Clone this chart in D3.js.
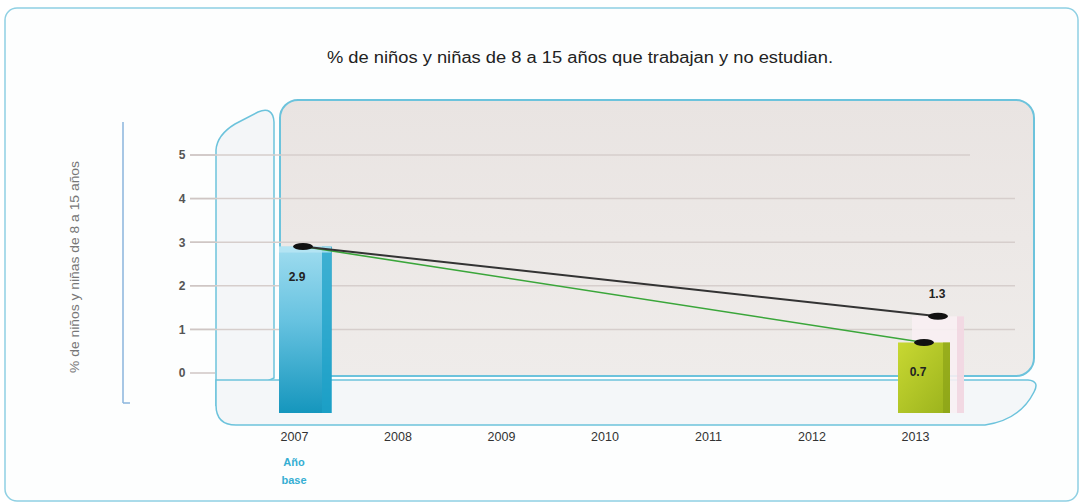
<!DOCTYPE html>
<html>
<head>
<meta charset="utf-8">
<script src="https://cdn.jsdelivr.net/npm/d3@7"></script>
<style>
  body { margin: 0; background: #fff; }
  svg { display: block; font-family: "Liberation Sans", Arial, sans-serif; }
</style>
</head>
<body>
<svg id="chart" width="1084" height="504"></svg>
<script>
// data
const years = [2007, 2008, 2009, 2010, 2011, 2012, 2013];
const yTicks = [0, 1, 2, 3, 4, 5];
const metaYears = [2007, 2013];
const metaValues = [2.9, 1.3];    // black line (goal)
const realYears = [2007, 2013];
const realValues = [2.9, 0.7];    // green line
const title = "% de niños y niñas de 8 a 15 años que trabajan y no estudian.";
const yTitle = "% de niños y niñas de 8 a 15 años";

const svg = d3.select("#chart");
const x = d3.scaleLinear().domain([2007, 2013]).range([294, 915]);
const y = d3.scaleLinear().domain([0, 5]).range([373, 155]);
const floorY = 413;
const barW = 52;

const defs = svg.append("defs");
const gBlue = defs.append("linearGradient").attr("id", "gBlue").attr("x1", 0).attr("y1", 0).attr("x2", 0).attr("y2", 1);
gBlue.append("stop").attr("offset", "0%").attr("stop-color", "#9fdcef");
gBlue.append("stop").attr("offset", "45%").attr("stop-color", "#66c2e0");
gBlue.append("stop").attr("offset", "100%").attr("stop-color", "#1596bd");
const gGreen = defs.append("linearGradient").attr("id", "gGreen").attr("x1", 0).attr("y1", 0).attr("x2", 1).attr("y2", 1);
gGreen.append("stop").attr("offset", "0%").attr("stop-color", "#c8d832");
gGreen.append("stop").attr("offset", "100%").attr("stop-color", "#9ab21c");
const gPanel = defs.append("linearGradient").attr("id", "gPanel").attr("x1", 0).attr("y1", 0).attr("x2", 0).attr("y2", 1);
gPanel.append("stop").attr("offset", "0%").attr("stop-color", "#e9e4e2");
gPanel.append("stop").attr("offset", "100%").attr("stop-color", "#efecea");

// outer card
svg.append("rect").attr("x", 5).attr("y", 8).attr("width", 1073).attr("height", 493).attr("rx", 12)
  .attr("fill", "#fdfefe").attr("stroke", "#8fd0e3").attr("stroke-width", 1.5);

// title
svg.append("text").attr("x", 580).attr("y", 63).attr("text-anchor", "middle")
  .attr("font-size", 16).attr("fill", "#222")
  .attr("textLength", 506).attr("lengthAdjust", "spacingAndGlyphs")
  .text(title);

// y title and side rule
svg.append("text").attr("transform", "translate(79,267) rotate(-90)")
  .attr("text-anchor", "middle").attr("font-size", 13).attr("fill", "#777")
  .attr("textLength", 212).attr("lengthAdjust", "spacingAndGlyphs")
  .text(yTitle);
svg.append("line").attr("x1", 123).attr("x2", 123).attr("y1", 122).attr("y2", 403)
  .attr("stroke", "#8ab4dc").attr("stroke-width", 1.5);
svg.append("line").attr("x1", 123).attr("x2", 130).attr("y1", 403).attr("y2", 403)
  .attr("stroke", "#8ab4dc").attr("stroke-width", 1.5);

// left side panel and floor
svg.append("path")
  .attr("d", "M216,405 L216,150 Q217,135 235,124 L258,112 Q273,106 274,122 L274,378 Z")
  .attr("fill", "#f4f6f8").attr("stroke", "#6cc3dc").attr("stroke-width", 1.5);
svg.append("path")
  .attr("d", "M216,380 L1028,380 Q1040,381 1034,392 Q1020,420 985,425 L236,425 Q216,425 216,405 Z")
  .attr("fill", "#f4f7f9").attr("stroke", "#6cc3dc").attr("stroke-width", 1.5);

// main plot panel
svg.append("rect").attr("x", 280).attr("y", 100).attr("width", 754).attr("height", 276).attr("rx", 18)
  .attr("fill", "url(#gPanel)").attr("stroke", "#6cc3dc").attr("stroke-width", 2);

// grid + ticks
const grid = svg.append("g");
grid.selectAll("line.grid").data(yTicks.filter(d => d > 0)).enter().append("line")
  .attr("class", "grid")
  .attr("x1", 190).attr("x2", d => d === 5 ? 970 : 1015)
  .attr("y1", d => y(d)).attr("y2", d => y(d))
  .attr("stroke", "#d6cecc").attr("stroke-width", 1.5);
grid.selectAll("line.tick").data(yTicks).enter().append("line")
  .attr("class", "tick")
  .attr("x1", 190).attr("x2", 215)
  .attr("y1", d => y(d)).attr("y2", d => y(d))
  .attr("stroke", "#cfc6c4").attr("stroke-width", 1.5);

const yAxis = d3.axisLeft(y).tickValues(yTicks).tickSize(0).tickPadding(0).tickFormat(d3.format("d"));
svg.append("g").attr("transform", "translate(186,0)").call(yAxis)
  .call(g => g.select(".domain").remove())
  .call(g => g.selectAll("text").attr("font-size", 12).attr("font-weight", "bold").attr("fill", "#555")
    .attr("font-family", "Liberation Sans, Arial, sans-serif").attr("text-anchor", "middle").attr("dx", -4));

const xAxis = d3.axisBottom(x).tickValues(years).tickSize(0).tickPadding(0).tickFormat(d3.format("d"));
svg.append("g").attr("transform", "translate(0,437)").call(xAxis)
  .call(g => g.select(".domain").remove())
  .call(g => g.selectAll("text").attr("font-size", 12.5).attr("fill", "#333")
    .attr("font-family", "Liberation Sans, Arial, sans-serif").attr("dy", "0.3em"));

// "Año base"
svg.append("text").attr("x", x(2007)).attr("y", 466).attr("text-anchor", "middle")
  .attr("font-size", 11).attr("font-weight", "bold").attr("fill", "#35aed3").text("Año");
svg.append("text").attr("x", x(2007)).attr("y", 484).attr("text-anchor", "middle")
  .attr("font-size", 11).attr("font-weight", "bold").attr("fill", "#35aed3").text("base");

// bars
// faded goal bar for 2013
const metaLast = metaValues[metaValues.length - 1];
svg.append("rect").attr("x", x(2013) + 23 - barW / 2).attr("y", y(metaLast))
  .attr("width", barW).attr("height", floorY - y(metaLast))
  .attr("fill", "#f8f0f3").attr("opacity", 0.9);
svg.append("rect").attr("x", x(2013) + 23 + barW / 2 - 7).attr("y", y(metaLast))
  .attr("width", 7).attr("height", floorY - y(metaLast))
  .attr("fill", "#f0d3de").attr("opacity", 0.8);

// 2007 base bar
const base = realValues[0];
svg.append("rect").attr("x", x(2007) + 12 - barW / 2 - 1).attr("y", y(base))
  .attr("width", barW).attr("height", floorY - y(base))
  .attr("fill", "url(#gBlue)");
svg.append("rect").attr("x", x(2007) + 12 + barW / 2 - 10).attr("y", y(base))
  .attr("width", 10).attr("height", floorY - y(base))
  .attr("fill", "#1ea2c8").attr("opacity", 0.75);
svg.append("rect").attr("x", x(2007) + 12 - barW / 2 - 1).attr("y", y(base))
  .attr("width", barW).attr("height", 6).attr("fill", "#b9e6f4").attr("opacity", 0.8);

// 2013 green bar
const last = realValues[realValues.length - 1];
svg.append("rect").attr("x", x(2013) + 9 - barW / 2).attr("y", y(last))
  .attr("width", barW).attr("height", floorY - y(last))
  .attr("fill", "url(#gGreen)");
svg.append("rect").attr("x", x(2013) + 9 + barW / 2 - 7).attr("y", y(last))
  .attr("width", 7).attr("height", floorY - y(last))
  .attr("fill", "#879e15").attr("opacity", 0.6);

// lines
const metaPts = metaYears.map((yr, i) => [x(yr) + (i === 0 ? 9 : 23), y(metaValues[i])]);
const realPts = realYears.map((yr, i) => [x(yr) + 9, y(realValues[i])]);
const line = d3.line();
svg.append("path").attr("d", line(realPts)).attr("fill", "none")
  .attr("stroke", "#3aa63a").attr("stroke-width", 1.6);
svg.append("path").attr("d", line(metaPts)).attr("fill", "none")
  .attr("stroke", "#333").attr("stroke-width", 2);

svg.selectAll("ellipse.mk").data(metaPts.concat(realPts.slice(1))).enter().append("ellipse")
  .attr("class", "mk")
  .attr("cx", d => d[0]).attr("cy", d => d[1]).attr("rx", 10).attr("ry", 3.5)
  .attr("fill", "#111");

// value labels
const lbl = (tx, ty, t) => svg.append("text").attr("x", tx).attr("y", ty).attr("text-anchor", "middle")
  .attr("font-size", 12).attr("font-weight", "bold").attr("fill", "#222").text(t);
lbl(x(2007) + 3, y(realValues[0]) + 34, realValues[0].toFixed(1));
lbl(x(2013) + 22, y(metaLast) - 18, metaLast.toFixed(1));
lbl(x(2013) + 3, y(last) + 34, last.toFixed(1));
</script>
</body>
</html>
